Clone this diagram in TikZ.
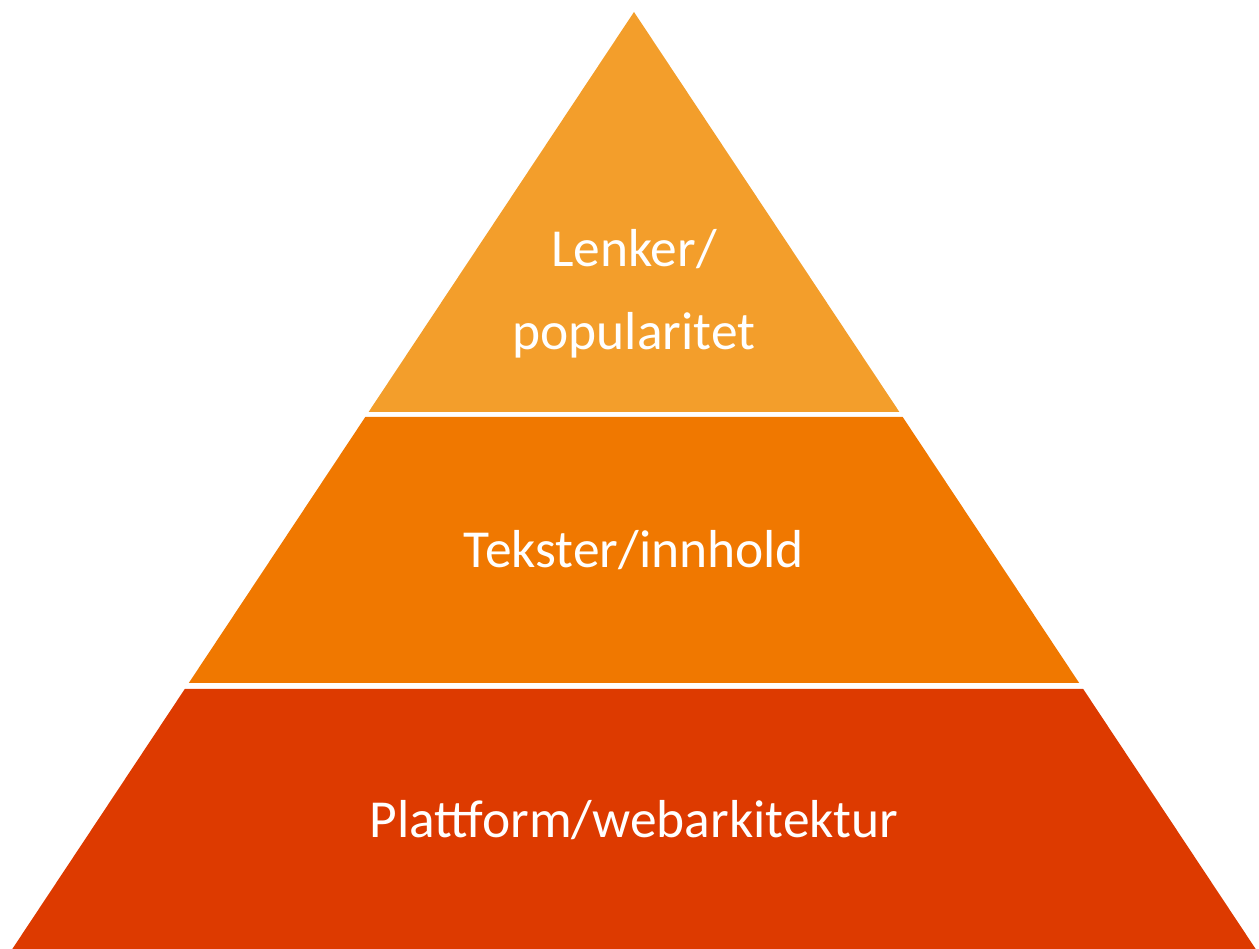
\documentclass[tikz,border=0pt]{standalone}
\usepackage{fontspec}
\setmainfont{Carlito}
\definecolor{toplayer}{RGB}{243,158,43}
\definecolor{midlayer}{RGB}{240,120,0}
\definecolor{baselayer}{RGB}{221,58,0}
\begin{document}
\begin{tikzpicture}[x=0.01cm,y=-0.01cm,
  label/.style={text=white,font=\fontsize{15.2}{23.6}\selectfont,align=center}]
\useasboundingbox (0,0) rectangle (1259,949);
\begin{scope}
% layers
\fill[toplayer] (634,12) -- (899.4,412) -- (368.6,412) -- cycle;
\fill[midlayer] (365.3,417) -- (902.7,417) -- (1079.2,683) -- (188.8,683) -- cycle;
\fill[baselayer] (184.8,689) -- (1083.2,689) -- (1255.7,949) -- (12.3,949) -- cycle;
\node[label] (L) at (634,294) {Lenker/\\popularitet};
\node[label] (M) at (634,550) {Tekster/innhold};
\node[label] (P) at (634,820) {Plattform/webarkitektur};
\end{scope}
\end{tikzpicture}
\end{document}
